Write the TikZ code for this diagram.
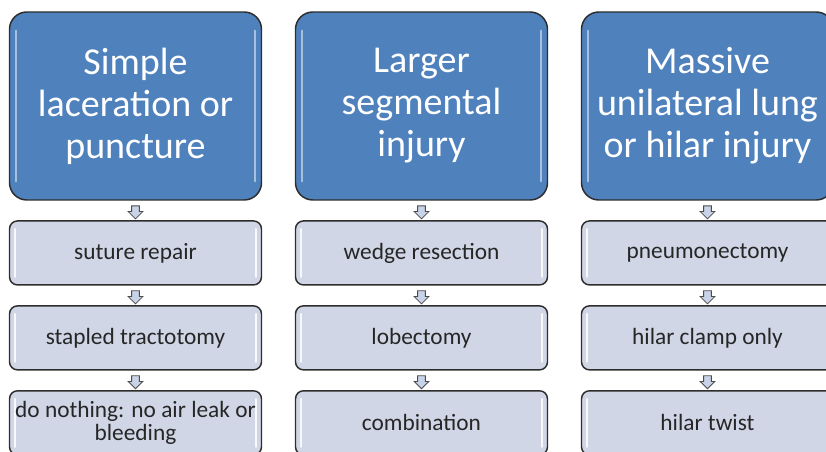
\documentclass[tikz,border=0pt]{standalone}
\usepackage{fontspec}
\setmainfont{Carlito}
\usetikzlibrary{positioning,shapes.arrows}

\definecolor{injuryblue}{RGB}{79,129,189}
\definecolor{optiongray}{RGB}{208,214,230}
\definecolor{arrowgray}{RGB}{200,210,232}
\definecolor{edgegray}{RGB}{45,45,45}

\begin{document}
\begin{tikzpicture}[x=0.75pt,y=-0.75pt,node distance=14.6pt]
        \tikzstyle{injury}=[draw=edgegray,line width=1.1pt,fill=injuryblue,rounded corners=13pt,minimum width=189pt,minimum height=141pt,text=white,align=center,font=\fontsize{28.5}{31.5}\selectfont,
            path picture={\draw[white!50!injuryblue,line width=1.4pt,line cap=round] ([xshift=5pt,yshift=14pt]path picture bounding box.south west) -- ([xshift=5pt,yshift=-14pt]path picture bounding box.north west) ([xshift=-5pt,yshift=14pt]path picture bounding box.south east) -- ([xshift=-5pt,yshift=-14pt]path picture bounding box.north east);}]
        \tikzstyle{option}=[draw=edgegray,line width=1.1pt,fill=optiongray,rounded corners=6pt,minimum width=189pt,minimum height=48pt,inner sep=1pt,align=center,text=black!85,font=\fontsize{17.5}{17}\selectfont,
            path picture={\draw[white!85!optiongray,line width=1.6pt,line cap=round] ([xshift=4pt,yshift=6pt]path picture bounding box.south west) -- ([xshift=4pt,yshift=-6pt]path picture bounding box.north west) ([xshift=-4pt,yshift=6pt]path picture bounding box.south east) -- ([xshift=-4pt,yshift=-6pt]path picture bounding box.north east);}]
        \tikzstyle{downarrow}=[single arrow,shape border rotate=270,draw=black!70,fill=arrowgray,line width=0.6pt,inner sep=2.6pt,minimum height=9.75pt,single arrow head extend=2.6pt]
        \useasboundingbox (0,0) rectangle (826,452);
        \clip (0,0) rectangle (826,452);
        % simple laceration
        \node[injury] (simple) at (135.5,106) {Simple\\laceration or\\puncture};
        \node[option,below=of simple] (suture) {suture repair};
        \node[option,below=of suture] (tractotomy) {stapled tractotomy};
        \node[option,below=of tractotomy] (nothing) {do nothing: no air leak or\\bleeding};
        % larger segmental injury
        \node[injury] (segmental) at (421.5,106) {Larger\\segmental\\injury};
        \node[option,below=of segmental] (wedge) {wedge resection};
        \node[option,below=of wedge] (lobectomy) {lobectomy};
        \node[option,below=of lobectomy] (combination) {combination};
        % massive unilateral or hilar injury
        \node[injury] (hilar) at (707.5,106) {Massive\\unilateral lung\\or hilar injury};
        \node[option,below=of hilar] (pneumonectomy) {pneumonectomy};
        \node[option,below=of pneumonectomy] (clamp) {hilar clamp only};
        \node[option,below=of clamp] (twist) {hilar twist};
        % arrows
        \path (simple) -- (suture) node[downarrow,midway] (a11) {};
        \path (suture) -- (tractotomy) node[downarrow,midway] (a12) {};
        \path (tractotomy) -- (nothing) node[downarrow,midway] (a13) {};
        \path (segmental) -- (wedge) node[downarrow,midway] (a21) {};
        \path (wedge) -- (lobectomy) node[downarrow,midway] (a22) {};
        \path (lobectomy) -- (combination) node[downarrow,midway] (a23) {};
        \path (hilar) -- (pneumonectomy) node[downarrow,midway] (a31) {};
        \path (pneumonectomy) -- (clamp) node[downarrow,midway] (a32) {};
        \path (clamp) -- (twist) node[downarrow,midway] (a33) {};
    \end{tikzpicture}
\end{document}
